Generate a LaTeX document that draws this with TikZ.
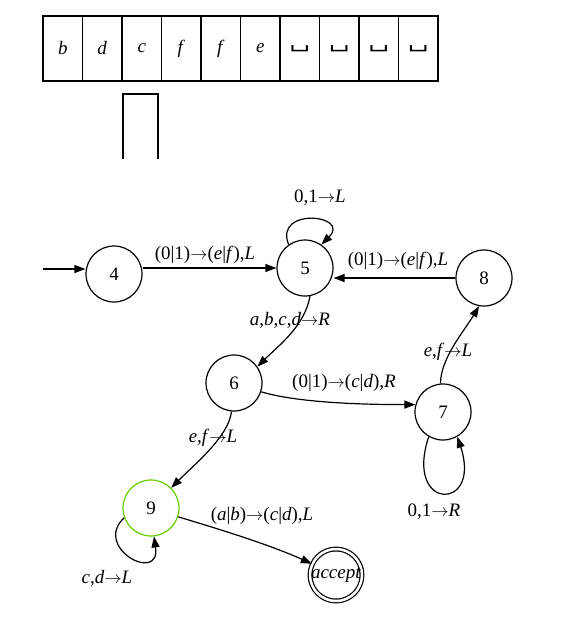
\documentclass[tikz,border=0pt]{standalone}
\usepackage{fontspec}
\setmainfont{Liberation Serif}
\newfontfamily\blankfont{DejaVu Serif}
\usetikzlibrary{arrows.meta}
\usetikzlibrary{positioning}
\definecolor{haltgreen}{RGB}{102,204,0}
\tikzset{state/.style = {draw, circle, minimum size = 56, inner sep = 0, line width = 1.2},
  cell/.style = {draw, minimum width = 39.5, minimum height = 65, inner sep = 0, line width = 1.8},
  trans/.style = {-{Triangle[length=11pt, width=8pt]}, line width = 1.2},
  lbl/.style = {inner sep = 0}}
\newcommand{\blank}{\scalebox{1.4}[1]{\blankfont\char"2423}}
\newcommand{\ra}{$\rightarrow$}

\begin{document}
\begin{tikzpicture}[x = 1pt, y = -1pt, font = \fontsize{19}{22}\selectfont]
      \useasboundingbox (0, 0) rectangle (582, 618);
      % tape and head
      \foreach \s [count=\i from 0] in {b,d,c,f,f,e} {
        \node [cell] (t\i) at (62.75 + 39.5*\i, 48.5) {\textit{\s}};
      }
      \foreach \i in {6,...,9} {
        \node [cell] (t\i) at (62.75 + 39.5*\i, 48.5) {\blank};
      }
      \draw [line width = 1.8] (123, 159) -- (123, 94) -- (158, 94) -- (158, 159);
      % states
      \node [state] (q4) at (114, 274) {4};
      \node [state] (q5) at (305, 268) {5};
      \node [state] (q8) at (484, 278) {8};
      \node [state] (q6) at (234, 383) {6};
      \node [state] (q7) at (443, 412) {7};
      \node [state, draw = haltgreen] (q9) at (151, 508) {9};
      \node [state, minimum size = 51, double, double distance = 2.5] (acc) at (336, 575) {\textit{accept}};
      \coordinate (start) at (43, 269);
      % transitions
      \draw [trans] (start) -- (q4.west |- start);
      \draw [trans] (q4.east |- q5) -- (q5.west);
      \draw [trans] (q5.125) .. controls +(-15, -38) and +(30, -30) .. (q5.55);
      \draw [trans] (q8.west) -- (q5.east |- q8);
      \draw [trans] (q5.-80) .. controls +(-5, 30) and +(20, -20) .. (q6.35);
      \draw [trans] (q6.-18) .. controls +(40, 12) and +(-40, 0) .. (q7.165);
      \draw [trans] (q7.95) .. controls +(0, -25) and +(-15, 25) .. (q8.-100);
      \draw [trans] (q7.-120) .. controls +(-25, 75) and +(25, 75) .. (q7.-60);
      \draw [trans] (q6.-95) .. controls +(-3, 25) and +(25, -25) .. (q9.45);
      \draw [trans] (q9.-160) .. controls +(-32, 30) and +(7, 48) .. (q9.-84);
      \draw [trans] (q9.-18) .. controls +(50, 15) and +(-40, -18) .. (acc.155);
      % labels
      \node [lbl] (l45) at (205, 255) {(0|1)\ra(\textit{e}|\textit{f}),\textit{L}};
      \node [lbl] (l55) at (320, 198) {0,1\ra\textit{L}};
      \node [lbl] (l85) at (398, 261) {(0|1)\ra(\textit{e}|\textit{f}),\textit{L}};
      \node [lbl] (l56) at (290, 320) {\textit{a},\textit{b},\textit{c},\textit{d}\ra\textit{R}};
      \node [lbl] (l67) at (344, 383) {(0|1)\ra(\textit{c}|\textit{d}),\textit{R}};
      \node [lbl] (l78) at (448, 352) {\textit{e},\textit{f}\ra\textit{L}};
      \node [lbl] (l77) at (434, 512) {0,1\ra\textit{R}};
      \node [lbl] (l69) at (213, 438) {\textit{e},\textit{f}\ra\textit{L}};
      \node [lbl] (l99) at (107, 578) {\textit{c},\textit{d}\ra\textit{L}};
      \node [lbl] (l9a) at (262, 516) {(\textit{a}|\textit{b})\ra(\textit{c}|\textit{d}),\textit{L}};
    \end{tikzpicture}
\end{document}
